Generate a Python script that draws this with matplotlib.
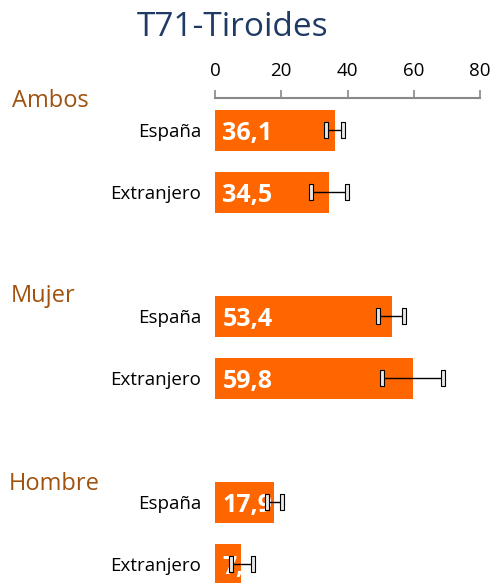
import numpy as np
import matplotlib.pyplot as plt
from matplotlib.path import Path

# data
groups = ["Ambos", "Mujer", "Hombre"]
categories = ["España", "Extranjero", "España", "Extranjero", "España", "Extranjero"]
values = [36.1, 34.5, 53.4, 59.8, 17.9, 7.8]
ci_low = [33.6, 29.0, 49.2, 50.4, 15.7, 4.8]
ci_high = [38.6, 39.8, 57.1, 68.8, 20.2, 11.5]
labels = ["36,1", "34,5", "53,4", "59,8", "17,9", "7,8"]
xticks = [0, 20, 40, 60, 80]

plt.rcParams.update({'font.family': ['Open Sans', 'DejaVu Sans']})

orange = "#FF6600"
brown = "#A0520F"
navy = "#1F3B64"

fig = plt.figure(figsize=(4.91, 5.83), dpi=100)
ax = fig.add_axes([215/491., 0., 265/491., 1 - 98/583.])

# rows 0,1 | 3,4 | 6,7 (blank rows between groups)
pos = np.array([0, 1, 3, 4, 6, 7])
ax.barh(pos, values, height=0.66, color=orange, zorder=1)

vals = np.array(values)
err = [vals - np.array(ci_low), np.array(ci_high) - vals]
ax.errorbar(vals, pos, xerr=err, fmt='none', ecolor='black', elinewidth=1.0,
            capsize=0, zorder=3)

# rectangle caps
cap = Path([(-1, -4), (1, -4), (1, 4), (-1, 4), (-1, -4)],
           [Path.MOVETO, Path.LINETO, Path.LINETO, Path.LINETO, Path.CLOSEPOLY])
ax.plot(ci_low + ci_high, list(pos) * 2, ls='none', marker=cap, ms=12,
        mfc='#E6E6E6', mec='black', mew=0.8, zorder=4)

for p, lab in zip(pos, labels):
    ax.text(2.2, p, lab, color='white', fontsize=18, fontweight='bold',
            va='center_baseline', ha='left', zorder=2)

ax.set_xlim(0, 80)
ax.set_ylim(7.30, -0.524)
ax.set_xticks(xticks)
ax.xaxis.tick_top()
ax.tick_params(axis='x', direction='out', length=6, width=1.2, color='#888888',
               labelsize=13.5, pad=7)
ax.set_yticks(pos)
ax.set_yticklabels(categories, fontsize=13.5)
ax.tick_params(axis='y', length=0, pad=10)
for s in ['bottom', 'left', 'right']:
    ax.spines[s].set_visible(False)
ax.spines['top'].set_color('#888888')
ax.spines['top'].set_linewidth(1.5)

fig.text(233/491., 1 - 28/583., "T71-Tiroides", color=navy, fontsize=24,
         ha='center', va='center')
for g, (x, y) in zip(groups, [(12, 101), (11, 296), (9, 484)]):
    fig.text(x/491., 1 - y/583., g, color=brown, fontsize=17, ha='left', va='center')

fig.savefig("out.png", dpi=100)
